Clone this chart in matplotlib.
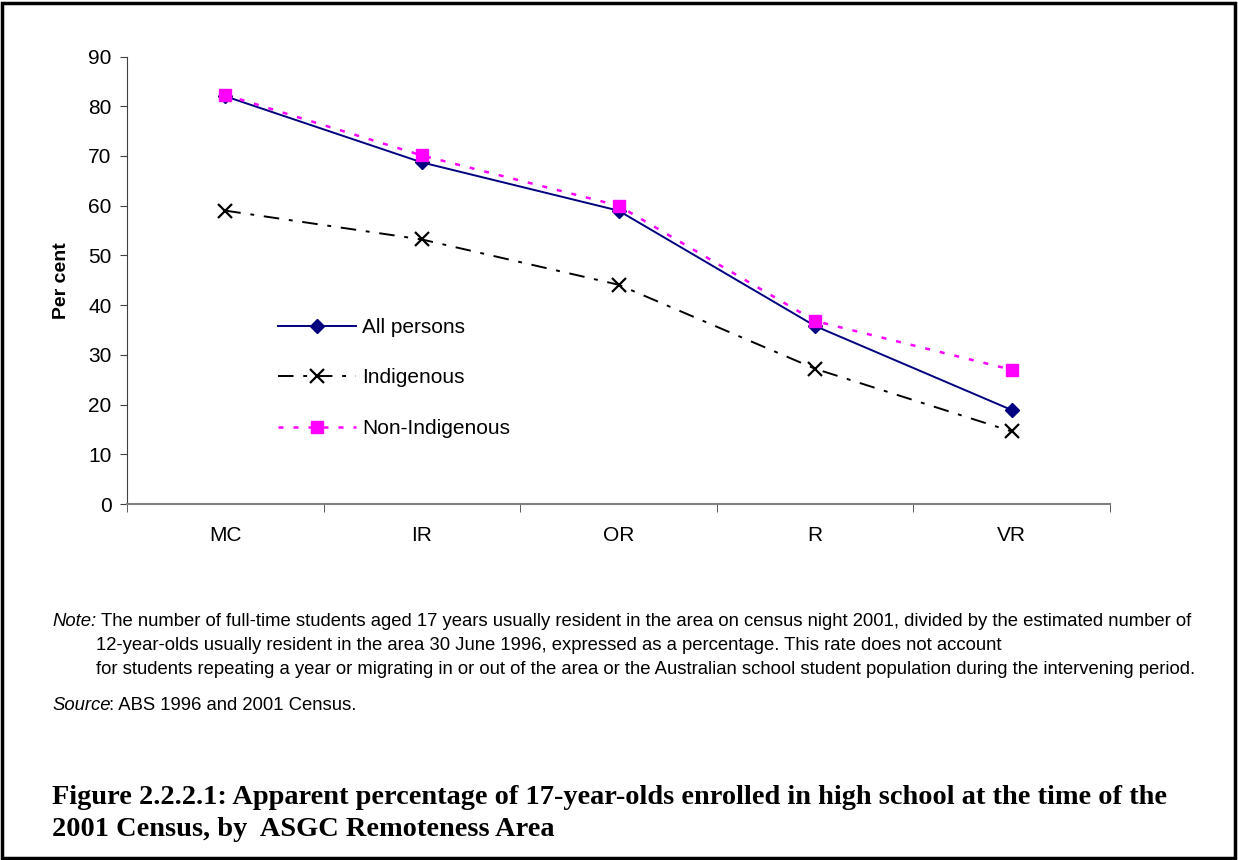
import matplotlib
matplotlib.use("Agg")
import matplotlib.pyplot as plt
from matplotlib.patches import Rectangle

# remoteness areas
categories = ["MC", "IR", "OR", "R", "VR"]

# apparent percentage enrolled
all_persons = [82.0, 68.7, 59.0, 35.8, 18.9]
indigenous = [59.0, 53.2, 44.1, 27.2, 14.6]
non_indigenous = [82.3, 70.1, 60.0, 36.8, 27.0]

yticks = list(range(0, 100, 10))

W, H = 1238, 860
plt.rcParams['font.family'] = ['Liberation Sans', 'DejaVu Sans']

fig = plt.figure(figsize=(W / 100, H / 100), dpi=100)
ax = fig.add_axes([127 / W, 1 - 504 / H, (1110 - 127) / W, (504 - 56.5) / H])

x = range(len(categories))
ax.plot(x, all_persons, color='#000080', lw=1.4, marker='D', ms=7,
        label='All persons')
ax.plot(x, indigenous, color='black', lw=1.4, ls=(0, (8, 5, 2, 5)),
        marker='x', ms=10, mew=1.6, label='Indigenous')
ax.plot(x, non_indigenous, color='#FF00FF', lw=1.8, ls=(0, (2, 4)),
        marker='s', ms=9, label='Non-Indigenous')

ax.set_xlim(-0.5, len(categories) - 0.5)
ax.set_ylim(0, 90)
ax.set_yticks(yticks)
ax.set_xticks(list(x))
ax.set_xticklabels(categories)
ax.set_xticks([i - 0.5 for i in range(len(categories) + 1)], minor=True)
ax.tick_params(axis='x', which='major', length=0, pad=16, labelsize=15)
ax.tick_params(axis='x', which='minor', length=6, color='#404040')
ax.tick_params(axis='y', length=5, labelsize=15, color='#404040', pad=6)

for s in ['top', 'right']:
    ax.spines[s].set_visible(False)
ax.spines['left'].set_color('#404040')
ax.spines['bottom'].set_color('#808080')
ax.spines['bottom'].set_linewidth(1.5)

ax.set_ylabel('Per cent', fontsize=14, fontweight='bold', labelpad=13)

ax.legend(loc='upper left', bbox_to_anchor=(0.135, 0.458), frameon=False,
          fontsize=15, handlelength=3.7, handletextpad=0.3, labelspacing=1.52)

# notes and caption
def ft(px, py, s, **kw):
    fig.text(px / W, 1 - py / H, s, va='center', **kw)

fs = 13.3
ft(52, 621, 'Note:', fontsize=fs, style='italic')
ft(101, 621, 'The number of full-time students aged 17 years usually resident in the area on census night 2001, '
   'divided by the estimated number of', fontsize=fs)
ft(96, 645, '12-year-olds usually resident in the area 30 June 1996, expressed as a percentage. '
   'This rate does not account', fontsize=fs)
ft(96, 669, 'for students repeating a year or migrating in or out of the area or the Australian school '
   'student population during the intervening period.', fontsize=fs)
ft(52, 705, 'Source', fontsize=fs, style='italic')
ft(109, 705, ': ABS 1996 and 2001 Census.', fontsize=fs)

cap_font = ['Liberation Serif', 'DejaVu Serif']
ft(52, 797, 'Figure 2.2.2.1: Apparent percentage of 17-year-olds enrolled in high school at the time of the',
   fontsize=20.4, fontweight='bold', family=cap_font)
ft(52, 829, '2001 Census, by  ASGC Remoteness Area',
   fontsize=20.4, fontweight='bold', family=cap_font)

fig.patches.append(Rectangle((2 / W, 2 / H), 1 - 5 / W, 1 - 5 / H, transform=fig.transFigure,
                             fill=False, edgecolor='black', lw=2.5))

fig.savefig('out.png', dpi=100)
